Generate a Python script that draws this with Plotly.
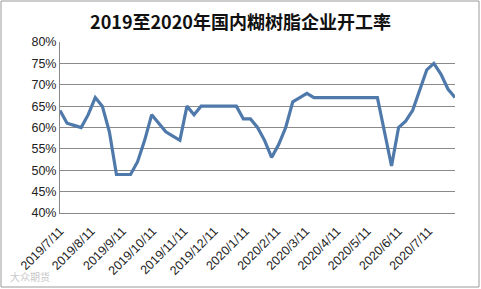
import plotly.graph_objects as go
import pandas as pd

start_date = "2019-07-11"
values = [64, 61, 60.5, 60, 63, 67, 65, 59, 49, 49, 49, 52, 57, 63,
          61, 59, 58, 57, 65, 63, 65, 65, 65, 65, 65, 65, 62, 62,
          60, 57, 53, 56, 60, 66, 67, 68, 67, 67, 67, 67, 67, 67,
          67, 67, 67, 67, 59, 51, 60, 61.5, 64, 69, 73.5, 75, 72.5, 69, 67]
dates = pd.date_range(start_date, periods=len(values), freq="7D")

tick_dates = ["2019-07-11", "2019-08-11", "2019-09-11", "2019-10-11", "2019-11-11",
              "2019-12-11", "2020-01-11", "2020-02-11", "2020-03-11", "2020-04-11",
              "2020-05-11", "2020-06-11", "2020-07-11"]
tick_labels = ["2019/7/11", "2019/8/11", "2019/9/11", "2019/10/11", "2019/11/11",
               "2019/12/11", "2020/1/11", "2020/2/11", "2020/3/11", "2020/4/11",
               "2020/5/11", "2020/6/11", "2020/7/11"]
y_ticks = [40, 45, 50, 55, 60, 65, 70, 75, 80]
y_labels = [f"{v}%" for v in y_ticks]
title = "2019至2020年国内糊树脂企业开工率"

fig = go.Figure(go.Scatter(x=dates, y=values, mode="lines",
                           line=dict(color="#4E79AA", width=3.2)))

fig.update_layout(
    width=481, height=289,
    margin=dict(l=60, r=26, t=42, b=76),
    paper_bgcolor="white", plot_bgcolor="white",
    showlegend=False,
    title=dict(text="<b>" + title + "</b>", x=0.5, xanchor="center", y=0.92, yanchor="middle",
               font=dict(family="Noto Sans CJK SC", size=18, color="#111")),
    font=dict(family="Noto Sans CJK SC, Liberation Sans", size=11, color="#222"),
)
fig.update_xaxes(type="date", range=[dates[0], dates[-1]],
                 tickvals=tick_dates, ticktext=tick_labels, tickangle=-45,
                 showgrid=False, showline=True, linecolor="#888", linewidth=1,
                 ticks="outside", ticklen=5, tickcolor="rgba(255,255,255,0)",
                 tickfont=dict(family="Liberation Sans", size=12.5))
fig.update_yaxes(range=[40, 80], tickvals=y_ticks, ticktext=y_labels,
                 showgrid=True, gridcolor="#8a8a8a", gridwidth=1,
                 showline=True, linecolor="#888", linewidth=1, zeroline=False,
                 ticks="", tickfont=dict(family="Liberation Sans", size=12.5))

# outer chart border
fig.add_shape(type="rect", xref="paper", yref="paper",
              x0=-59/395, x1=1 + 24/395, y0=-74/171, y1=1 + 41/171,
              line=dict(color="#9a9a9a", width=1), fillcolor="rgba(0,0,0,0)")
fig.add_annotation(text="大众期货", xref="paper", yref="paper",
                   x=-52/395, y=-73/171, xanchor="left", yanchor="bottom",
                   showarrow=False, font=dict(size=10, color="#c8c8c8"))

fig.write_html("out.html")
